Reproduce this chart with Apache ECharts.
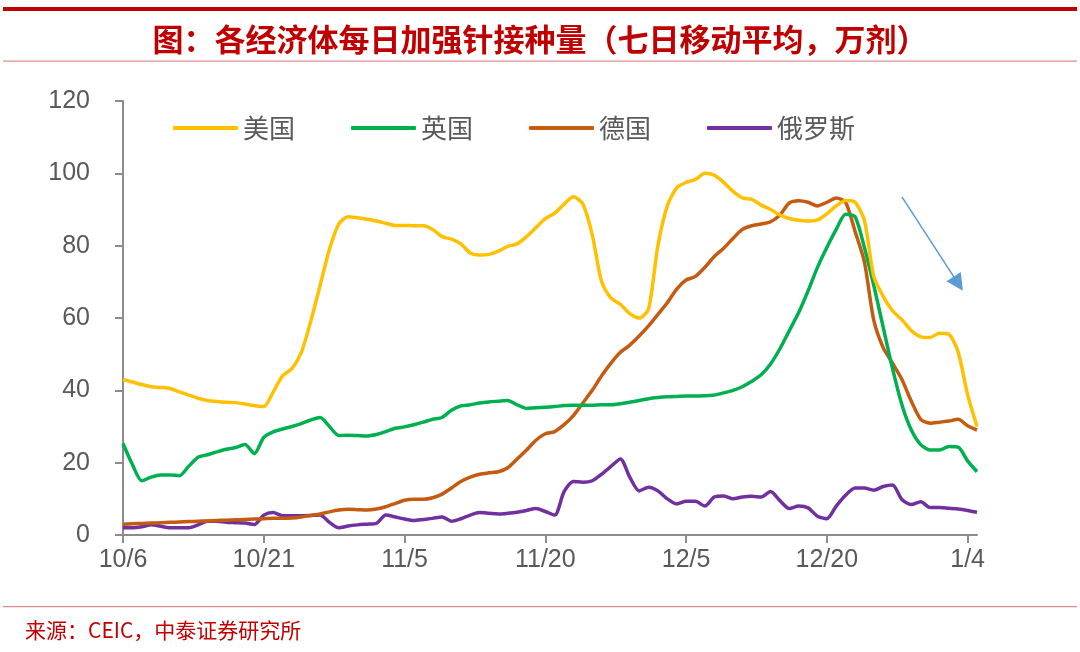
<!DOCTYPE html>
<html>
<head>
<meta charset="utf-8">
<script src="https://cdn.jsdelivr.net/npm/echarts@6/dist/echarts.min.js"></script>
<style>
html, body { margin: 0; padding: 0; background: #fff; }
#chart { width: 1080px; height: 652px; }
</style>
</head>
<body>
<div id="chart"></div>
<script>
// daily 7-day moving average, 10/6 .. 1/5
var seriesNames = ['美国', '英国', '德国', '俄罗斯'];
var tickLabels = ['10/6', '10/21', '11/5', '11/20', '12/5', '12/20', '1/4'];
var yTicks = [0, 20, 40, 60, 80, 100, 120];

var usData = [
    43.0, 42.3, 41.6, 41.0, 40.8, 40.5, 39.6, 38.7, 37.8, 37.2,
    36.9, 36.7, 36.6, 36.2, 35.8, 35.5, 39.5, 44.0, 46.0, 50.5,
    59.0, 69.0, 79.0, 86.0, 88.0, 87.7, 87.3, 86.8, 86.2, 85.6,
    85.6, 85.5, 85.5, 84.5, 82.5, 81.8, 80.5, 78.0, 77.4, 77.6,
    78.5, 79.8, 80.5, 82.5, 85.0, 87.5, 89.0, 91.5, 93.5, 91.5,
    83.0, 70.0, 65.5, 63.8, 61.2, 60.0, 62.5, 80.0, 91.0, 96.0,
    97.5, 98.3, 100.0, 99.5, 97.5, 95.0, 93.2, 92.8, 91.2, 90.0,
    88.5, 87.5, 87.0, 86.8, 87.1, 88.8, 91.0, 92.5, 92.0, 87.0,
    71.5, 66.0, 62.0, 59.5, 56.5, 54.8, 54.6, 55.8, 55.5, 50.5,
    38.8, 30.0
];
var ukData = [
    25.3, 19.5, 15.0, 16.0, 16.6, 16.6, 16.4, 19.0, 21.5, 22.2,
    23.0, 23.7, 24.2, 25.0, 22.5, 27.0, 28.5, 29.3, 30.0, 30.8,
    31.8, 32.5, 30.0, 27.5, 27.6, 27.5, 27.4, 27.8, 28.6, 29.5,
    29.9, 30.5, 31.2, 32.0, 32.5, 34.5, 35.7, 36.0, 36.5, 36.8,
    37.0, 37.2, 36.0, 35.0, 35.2, 35.3, 35.5, 35.8, 35.9, 35.9,
    35.9, 36.0, 36.0, 36.3, 36.7, 37.2, 37.7, 38.0, 38.2, 38.3,
    38.4, 38.4, 38.5, 38.7, 39.3, 40.0, 41.0, 42.5, 44.3, 47.3,
    51.5, 56.5, 61.5, 67.5, 74.0, 79.5, 84.5, 88.7, 88.0, 79.5,
    69.0, 57.5, 46.0, 36.0, 29.0, 25.0, 23.5, 23.5, 24.5, 24.3,
    20.5, 17.5
];
var deData = [
    3.0, 3.1, 3.2, 3.3, 3.4, 3.5, 3.6, 3.7, 3.8, 3.9,
    4.0, 4.1, 4.2, 4.3, 4.4, 4.5, 4.6, 4.6, 4.7, 5.0,
    5.4, 5.8, 6.4, 6.9, 7.1, 7.0, 6.9, 7.2, 7.8, 8.7,
    9.6, 9.9, 9.9, 10.3, 11.3, 13.0, 14.8, 16.0, 16.8, 17.2,
    17.5, 18.6, 21.0, 23.5, 26.2, 28.0, 28.6, 30.5, 33.0, 36.5,
    40.0, 44.0, 47.5, 50.5, 52.5, 55.0, 57.8, 61.0, 64.2, 68.0,
    70.5, 71.5, 74.0, 77.0, 79.3, 82.0, 84.5, 85.5, 86.0, 86.6,
    88.5, 91.8, 92.4, 92.0, 91.0, 92.0, 93.2, 92.0, 84.0, 75.5,
    59.4, 51.8, 47.5, 43.0, 37.0, 32.0, 30.9, 31.2, 31.5, 32.0,
    30.2, 29.0
];
var ruData = [
    2.0, 2.0, 2.3, 2.8, 2.4, 2.0, 2.0, 2.0, 2.8, 3.8,
    3.8, 3.5, 3.4, 3.3, 2.9, 5.5, 6.2, 5.3, 5.3, 5.3,
    5.4, 5.5, 3.5, 2.0, 2.5, 2.8, 3.0, 3.2, 5.5, 5.0,
    4.4, 4.0, 4.3, 4.6, 5.0, 3.8, 4.5, 5.5, 6.2, 6.0,
    5.8, 6.0, 6.3, 6.8, 7.3, 6.5, 5.5, 12.0, 14.8, 14.6,
    15.0, 16.8, 19.0, 21.0, 16.0, 12.2, 13.2, 12.2, 10.0, 8.6,
    9.3, 9.3, 8.0, 10.5, 10.8, 10.0, 10.5, 10.7, 10.5, 12.0,
    9.5, 7.3, 8.0, 7.5, 5.2, 4.5, 8.0, 11.0, 13.0, 13.0,
    12.4, 13.4, 13.8, 9.8, 8.4, 9.2, 7.6, 7.6, 7.4, 7.2,
    6.8, 6.3
];
var seriesColors = ['#FFC000', '#00B050', '#C55A11', '#7030A0'];

// arrow annotation (category index, value)
var arrowFrom = [83, 93.5];
var arrowTo = [89, 69.5];

var days = [];
var d0 = new Date(2021, 9, 6);
for (var i = 0; i < usData.length; i++) {
    var d = new Date(d0.getTime() + i * 86400000);
    days.push((d.getMonth() + 1) + '/' + d.getDate());
}
function isTick(idx, val) {
    return idx <= 90 && tickLabels.indexOf(val) >= 0;
}

var dom = document.getElementById('chart');
var myChart = echarts.init(dom, null, { renderer: 'canvas' });

var allData = [usData, ukData, deData, ruData];
var series = allData.map(function (arr, k) {
    var s = {
        name: seriesNames[k],
        type: 'line',
        data: arr,
        symbol: 'none',
        smooth: 0.25,
        lineStyle: { color: seriesColors[k], width: 3.5 },
        itemStyle: { color: seriesColors[k] },
        z: 10 - k
    };
    if (k === 0) {
        s.markLine = {
            silent: true,
            symbol: ['none', 'triangle'],
            symbolSize: 17,
            label: { show: false },
            lineStyle: { color: '#5B9BD5', width: 1.5, type: 'solid' },
            data: [[{ coord: arrowFrom }, { coord: arrowTo }]]
        };
    }
    return s;
});

option = {
    animation: false,
    backgroundColor: '#fff',
    title: {
        text: '图：各经济体每日加强针接种量（七日移动平均，万剂）',
        left: 'center',
        top: 19,
        textStyle: {
            fontFamily: 'Noto Sans CJK SC',
            fontSize: 31,
            fontWeight: 'bold',
            color: '#C00000'
        }
    },
    graphic: [
        { type: 'rect', shape: { x: 3, y: 7, width: 1074, height: 4 }, style: { fill: '#C00000' } },
        { type: 'rect', shape: { x: 3, y: 60.5, width: 1074, height: 1.2 }, style: { fill: '#D98C8C' } },
        { type: 'rect', shape: { x: 3, y: 606, width: 1074, height: 1.2 }, style: { fill: '#D98C8C' } },
        {
            type: 'text', left: 25, top: 620,
            style: {
                text: '来源：CEIC，中泰证券研究所',
                fontFamily: 'Noto Sans CJK SC',
                fontSize: 21,
                fill: '#C00000'
            }
        }
    ],
    legend: {
        data: seriesNames,
        left: 168,
        top: 110,
        icon: 'roundRect',
        itemWidth: 65,
        itemHeight: 4,
        itemGap: 56,
        textStyle: {
            fontFamily: 'Noto Sans CJK SC',
            fontSize: 26,
            color: '#595959'
        }
    },
    grid: {
        left: 123,
        right: 103,
        top: 101,
        bottom: 117,
        containLabel: false
    },
    xAxis: {
        type: 'category',
        data: days,
        boundaryGap: false,
        axisLine: { lineStyle: { color: '#8C8C8C', width: 2 } },
        axisTick: { interval: isTick, length: 8, lineStyle: { color: '#8C8C8C', width: 2 } },
        axisLabel: {
            interval: isTick,
            margin: 13,
            fontFamily: 'Liberation Sans',
            fontSize: 25,
            color: '#595959'
        },
        splitLine: { show: false }
    },
    yAxis: {
        type: 'value',
        min: yTicks[0],
        max: yTicks[yTicks.length - 1],
        interval: 20,
        axisLine: { show: true, lineStyle: { color: '#8C8C8C', width: 2 } },
        axisTick: { show: true, length: 8, lineStyle: { color: '#8C8C8C', width: 2 } },
        axisLabel: {
            margin: 33,
            fontFamily: 'Liberation Sans',
            fontSize: 25,
            color: '#595959'
        },
        splitLine: { show: false }
    },
    series: series
};

if (option && typeof option === 'object') {
    myChart.setOption(option, true);
}
</script>
</body>
</html>
